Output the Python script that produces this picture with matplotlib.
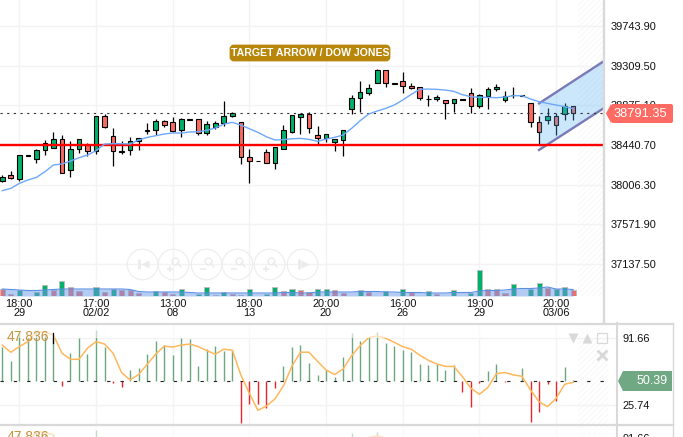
import matplotlib
matplotlib.use("Agg")
from matplotlib import pyplot as plt
from matplotlib.patches import FancyBboxPatch, Polygon

plt.rcParams["font.family"] = ["Liberation Sans", "DejaVu Sans"]
plt.rcParams["hatch.linewidth"] = 0.5

W, H = 683, 437

opens = [38049,38107,38067,38327,38290,38381,38411,38502,38162,38392,38440,38371,38754,38535,38371,38381,38488,38601,38608,38700,
         38689,38601,38722,38722,38568,38637,38678,38754,38689,38305,38266,38360,38239,38392,38586,38744,38776,38546,38513,38469,
         38491,38831,38952,39007,39117,39259,39119,39138,39084,39073,38950,38941,38930,38897,38943,39007,38868,38974,39051,38930,
         38986,38988,38897,38689,38711,38754,38776,38868]
closes = [38093,38074,38327,38323,38381,38458,38502,38136,38392,38509,38378,38754,38637,38371,38369,38480,38513,38599,38700,38663,
          38597,38722,38715,38568,38667,38678,38754,38787,38305,38261,38262,38239,38414,38601,38765,38776,38623,38513,38557,38502,
          38601,38952,39018,39062,39259,39117,39115,39084,39062,38952,38947,38963,38897,38941,38939,38868,38985,39051,39073,38974,
          38984,38982,38689,38579,38754,38656,38868,38791]
highs = [38111,38158,38334,38327,38392,38491,38579,38546,38480,38509,38458,38758,38776,38623,38480,38531,38513,38678,38729,38711,
         38744,38733,38722,38722,38707,38700,38919,38806,38689,38392,38266,38400,38422,38656,38765,38776,38806,38645,38557,38502,
         38601,38985,39138,39106,39270,39259,39119,39237,39117,39073,38985,38985,38930,38941,38943,39062,38996,39073,39106,39029,
         39073,38988,38897,38754,38842,38787,38897,38868]
lows = [38030,38063,38049,38323,38246,38330,38411,38136,38089,38356,38319,38345,38627,38210,38345,38330,38385,38564,38550,38641,
        38579,38528,38715,38550,38553,38619,38652,38747,38235,38027,38262,38239,38180,38392,38575,38561,38575,38451,38469,38374,
        38319,38776,38802,38992,39117,39080,39115,39007,39051,38930,38868,38919,38725,38802,38939,38791,38842,38835,39032,38908,
        38952,38982,38637,38447,38670,38546,38714,38714]
ma = [37939,37965,38019,38056,38085,38147,38221,38232,38264,38301,38330,38378,38451,38455,38455,38451,38495,38524,38542,38561,
      38572,38572,38583,38586,38601,38627,38670,38689,38659,38619,38579,38531,38495,38499,38509,38513,38502,38480,38506,38524,
      38550,38623,38707,38780,38813,38842,38879,38934,38996,39051,39054,39051,39043,39029,38992,38970,38963,38963,38959,38967,
      38981,38981,38945,38915,38897,38879,38861,38839]
volumes = [700,200,600,0,400,1100,600,1500,900,500,0,900,400,700,600,600,300,0,500,400,
           200,700,0,200,900,100,400,200,100,700,0,200,900,500,700,600,400,700,700,600,
           300,0,600,400,0,500,0,700,400,0,500,200,0,600,0,300,2600,700,700,300,
           1200,0,700,1300,800,700,900,600]
volume_side = "RRGRGGRGRRRGRGRRRRGRRGRGGGGRRGRGGRGRRGGR" + "RRGRRGRGRRGRRGRGGRRRGRGGRGGR"
volume_ma = [700,650,600,550,550,600,650,700,700,700,700,700,700,700,700,650,450,400,400,400,
             400,400,350,300,300,300,300,300,300,300,300,300,300,350,350,300,300,400,400,400,
             400,400,450,450,450,400,400,350,350,350,300,300,300,350,350,350,500,550,550,600,
             700,750,750,800,900,700,700,650]
osc_bars = [83.5,69,98,92,98,96.6,95,45,77,92,76,100,83.5,47.4,44,60.5,62,76,89,85,
            75,92,90.7,64.4,81,84,79,80,8,27,27,23.4,43,64,83,85,67,55.6,60.5,54,
            73,96.6,89,93,98,86.7,84,80,78,66,65.4,66,60,65.4,38.5,24.4,47.4,59,66,49,
            50,62,9,19.5,46.4,30,63,50.39]
osc_line = [85,77.9,83.5,88.4,98,97.6,95,77,71,71,82,88.4,86,77,58,50.7,56,66,76,84,
            83,85,86,83.5,79.5,76,81,80,55.6,37.5,20.8,25,32,44.8,64.4,78,78,69,60.5,56,
            61.5,74.6,84.4,92.3,94,91.7,87.7,83.5,81,75,70,66.4,64,64,54,42.5,36.6,43.4,57,58,
            55.6,54.3,40.8,29.3,24.4,32.6,46.4,48.4]

price_ticks = [39743.90, 39309.50, 38875.10, 38440.70, 38006.30, 37571.90, 37137.50]
time_ticks = [2, 11, 20, 29, 38, 47, 56, 65]
time_labels = ["18:00\n29", "17:00\n02/02", "13:00\n08", "18:00\n13", "20:00\n20", "16:00\n26", "19:00\n29", "20:00\n03/06"]
osc_ticks = [91.66, 25.74]
support = 38440.70
last_price = 38791.35
channel_x = [63, 70.62]
channel_top = [38897, 39361]
channel_bottom = [38386, 38846]

GREEN, RED = "#00b16a", "#f96a60"
GRID = "#f3f3f3"
BORDER = "#d9d9d9"
HATCH = "#f4f4f4"
idx = list(range(len(opens)))


def px_axes(left, top, right, bottom):
    return fig.add_axes([left / W, 1 - bottom / H, (right - left) / W, (bottom - top) / H])


def x_range(left, right):
    # candles sit 8.52 px apart, the first one at 2.3 px
    return (left - 2.3) / 8.52, (right - 2.3) / 8.52


fig = plt.figure(figsize=(W / 100, H / 100), dpi=100)

# price panel
ax = px_axes(0, 0, 604, 296)
ax.set_xlim(*x_range(0, 604))
ax.set_ylim(36784, 40031)
ax.set_yticks(price_ticks, [f"{p:.2f}" for p in price_ticks])
ax.set_xticks(time_ticks, time_labels, linespacing=0.95)
ax.yaxis.tick_right()
ax.tick_params(length=0, labelsize=7.9, labelcolor="#111111")
ax.tick_params(axis="y", pad=4.5)
ax.tick_params(axis="x", pad=2)
ax.grid(color=GRID, lw=1)
ax.set_axisbelow(True)
for s in ax.spines.values():
    s.set_visible(False)
ax.axvspan(67.6, 70.62, facecolor="none", edgecolor=HATCH, hatch="//////", lw=0, zorder=1)

colors = [GREEN if c >= o else RED for o, c in zip(opens, closes)]
ax.vlines(idx, lows, highs, color="black", lw=0.9, zorder=3)
ax.bar(idx, [abs(c - o) for o, c in zip(opens, closes)], bottom=[min(o, c) for o, c in zip(opens, closes)],
       width=0.55, color=colors, edgecolor="black", lw=0.8, zorder=3)
ax.fill_between(channel_x, channel_bottom, channel_top, color="#50b0f5", alpha=0.3, lw=0, zorder=4)
ax.plot(channel_x, channel_top, color="#7a7ab8", lw=1.7, zorder=5)
ax.plot(channel_x, channel_bottom, color="#7a7ab8", lw=1.7, zorder=5)
ax.axhline(last_price, color="#333333", lw=0.8, ls=(0, (2, 4)), zorder=5)
ax.axhline(support, color="#ff0000", lw=1.7, zorder=6)
ax.plot(idx, ma, color="#6ea8fa", lw=1, zorder=7)

# volume, same area as the price panel
vol = px_axes(0, 0, 604, 296)
vol.set_xlim(*x_range(0, 604))
vol.set_ylim(0, 29600)
vol.axis("off")
vol_shown = [i for i in idx if volumes[i] > 0]
vol.bar(vol_shown, [volumes[i] for i in vol_shown], width=0.6,
        color=[GREEN if volume_side[i] == "G" else RED for i in vol_shown], edgecolor="#bdbdbd", lw=0.7, zorder=2)
vol.fill_between(idx, 0, volume_ma, color="#6a9bea", alpha=0.5, lw=0, zorder=3)
vol.plot(idx, volume_ma, color="#5b8fe6", lw=0.8, zorder=4)

# oscillator, the second copy is cut off by the bottom of the image
for top in (325, 425):
    osc = px_axes(0, top, 616, top + 99)
    osc.set_xlim(*x_range(0, 616))
    osc.set_ylim(7.34, 104.75)
    osc.set_yticks(osc_ticks, [f"{t:.2f}" for t in osc_ticks])
    osc.set_xticks(time_ticks, [])
    osc.yaxis.tick_right()
    osc.tick_params(length=0, labelsize=7.9, labelcolor="#111111", pad=5)
    osc.grid(color=GRID, lw=1)
    osc.set_axisbelow(True)
    for s in osc.spines.values():
        s.set_visible(False)
    osc.axvspan(67.6, 71.1, facecolor="none", edgecolor=HATCH, hatch="//////", lw=0, zorder=1)
    osc.vlines(idx, [50] * len(idx), osc_bars, colors=["#6aa77f" if b >= 50 else "#e8262d" for b in osc_bars],
               lw=1, zorder=3)
    osc.hlines(50, x_range(0, 0)[0], x_range(0, 605)[1], color="#222222", lw=0.8, ls=(0, (3, 9)), zorder=4)
    osc.plot(idx, osc_line, color="#ffb85c", lw=1.1, zorder=5)
    osc.axhspan(91.66, 104.75, color="white", alpha=0.6, lw=0, zorder=6)
    fig.text(7 / W, 1 - (top + 12) / H, "47.836", color="#c9943f", fontsize=10, va="center", zorder=10)

# page furniture in pixel coordinates
ui = fig.add_axes([0, 0, 1, 1], zorder=20)
ui.set_xlim(0, W)
ui.set_ylim(H, 0)
ui.axis("off")

ui.plot([604, 604], [0, 323], color=BORDER, lw=1.7)
ui.plot([0, 673], [323.5, 323.5], color=BORDER, lw=1.6)
ui.plot([0, 673], [424.5, 424.5], color=BORDER, lw=1.6)
ui.plot([616.5, 616.5], [323, H], color=BORDER, lw=1.5)
ui.plot([673, 673], [323, H], color=BORDER, lw=1)
ui.plot([52.5, 52.5], [333, 343], color="black", lw=0.9)

# title tag
ui.add_patch(FancyBboxPatch((231, 46), 158, 14, boxstyle="round,pad=0,rounding_size=3", fc="#b8860b", ec="#b8860b", lw=2))
ui.text(310, 53, "TARGET ARROW / DOW JONES", color="white", fontsize=7.6, fontweight="bold", ha="center", va="center")

# last value tags
ui.add_patch(Polygon([(606, 113.5), (611, 104), (611, 123)], fc="#ff6a62", ec="none"))
ui.add_patch(FancyBboxPatch((611, 104), 62, 19, boxstyle="round,pad=0,rounding_size=2", fc="#ff6a62", ec="none"))
ui.text(640, 114, f"{last_price:.2f}", color="white", fontsize=9.3, ha="center", va="center")
ui.add_patch(Polygon([(618, 381), (623, 371), (672, 371), (672, 391), (623, 391)], fc="#6fa883", ec="none"))
ui.text(652, 381.5, "50.39", color="white", fontsize=9, ha="center", va="center")

# zoom and scroll buttons
BTN = "#ebebeb"
for cx in (142, 173, 206, 237, 269, 302):
    ui.plot(cx, 264, "o", ms=22, mfc="none", mec="#eeeeee", mew=0.9)
ui.plot(139, 264, "|", ms=7, color=BTN, mew=2)
ui.plot(145, 264, "<", ms=6, color=BTN, mec="none")
ui.plot(299, 264, "|", ms=7, color=BTN, mew=2)
ui.plot(305, 264, ">", ms=6, color=BTN, mec="none")
for cx, mark in ((173, "+"), (206, "_"), (237, "_"), (269, "+")):
    ui.plot(cx + 2, 261, "o", ms=5, mfc="none", mec=BTN, mew=1)
    ui.plot([cx + 4, cx + 8], [263, 267], color=BTN, lw=1)
    ui.plot(cx - 3, 269, mark, ms=5, color=BTN, mew=1.2)

# panel icons
ui.plot(573, 338, "v", ms=6.5, color=BORDER, mec="none")
ui.plot(587, 338, "^", ms=6.5, color=BORDER, mec="none")
ui.plot(602, 338, "s", ms=6.5, mfc="none", mec=BORDER, mew=0.9)
ui.plot(602, 355, "x", ms=6.5, color=BORDER, mew=2)

fig.savefig("out.png", dpi=100)
